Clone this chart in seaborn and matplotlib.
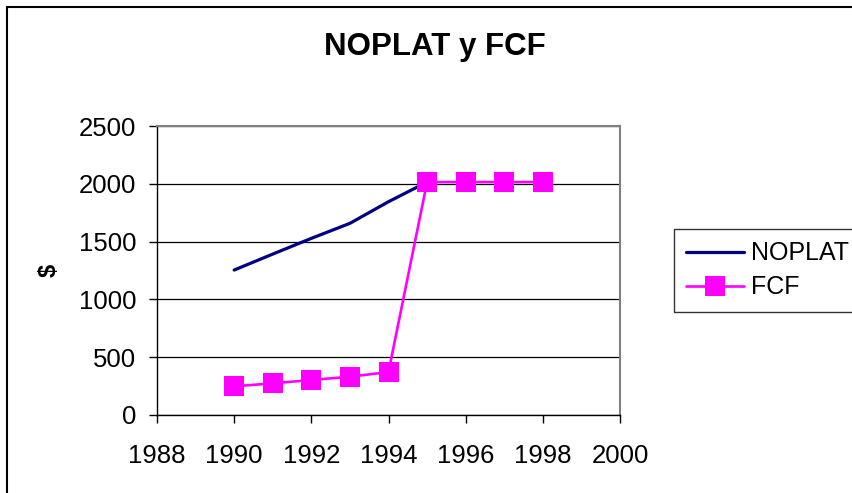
import pandas as pd
import numpy as np
import matplotlib.pyplot as plt
import seaborn as sns
from matplotlib.patches import Rectangle

years = [1990, 1991, 1992, 1993, 1994, 1995, 1996, 1997, 1998]
noplat_years = [1990, 1991, 1992, 1993, 1994, 1995]
noplat = [1254, 1392, 1528, 1658, 1845, 2015]
fcf = [248, 274, 303, 331, 372, 2015, 2015, 2015, 2015]

df_noplat = pd.DataFrame({"year": noplat_years, "value": noplat})
df_fcf = pd.DataFrame({"year": years, "value": fcf})

sns.set_style("white")
plt.rcParams['font.family'] = ['Liberation Sans', 'DejaVu Sans']
plt.rcParams['text.color'] = 'black'
plt.rcParams['xtick.color'] = 'black'
plt.rcParams['ytick.color'] = 'black'
plt.rcParams['axes.labelcolor'] = 'black'

fig = plt.figure(figsize=(8.53, 4.93), dpi=100)
ax = fig.add_axes([157/853, 1-415/493, (620-157)/853, (415-126)/493])

sns.lineplot(data=df_noplat, x="year", y="value", ax=ax, color="#000080",
             linewidth=2.3, label="NOPLAT")
sns.lineplot(data=df_fcf, x="year", y="value", ax=ax, color="#FF00FF",
             linewidth=1.9, marker="s", markersize=14.5, markeredgewidth=0,
             label="FCF")

ax.set_xlim(1988, 2000)
ax.set_ylim(0, 2500)
ax.set_xticks(np.arange(1988, 2001, 2))
ax.set_yticks(np.arange(0, 2501, 500))
ax.tick_params(labelsize=18.5, direction="out", length=6, width=1,
               color="black", left=True, bottom=True)
ax.tick_params(axis="x", pad=15)
ax.tick_params(axis="y", pad=9)
ax.grid(axis="y", color="black", linewidth=0.9)
ax.grid(axis="x", visible=False)
ax.set_xlabel("")
ax.set_ylabel("$", fontsize=17, fontweight="bold", labelpad=13)

for side in ["left", "bottom"]:
    ax.spines[side].set_color("black")
    ax.spines[side].set_linewidth(1)
for side in ["top", "right"]:
    ax.spines[side].set_color("#808080")
    ax.spines[side].set_linewidth(1.5)

fig.text(435/853, 1-47/493, "NOPLAT y FCF", ha="center", va="center",
         fontsize=22.5, fontweight="bold")

ax.get_legend().remove()
leg = fig.legend(loc="upper left", bbox_to_anchor=(674/853, 1-229/493),
                 fontsize=18, frameon=True, fancybox=False, edgecolor="black",
                 handlelength=2.3, handletextpad=0.28, borderpad=0.5,
                 labelspacing=0.4, borderaxespad=0)
leg.get_frame().set_linewidth(1)

fig.patches.append(Rectangle((7/853, -0.1), 1.2, 1.1 - 7/493,
                             transform=fig.transFigure, fill=False,
                             edgecolor="black", linewidth=1.5))

fig.savefig("out.png", dpi=100)
